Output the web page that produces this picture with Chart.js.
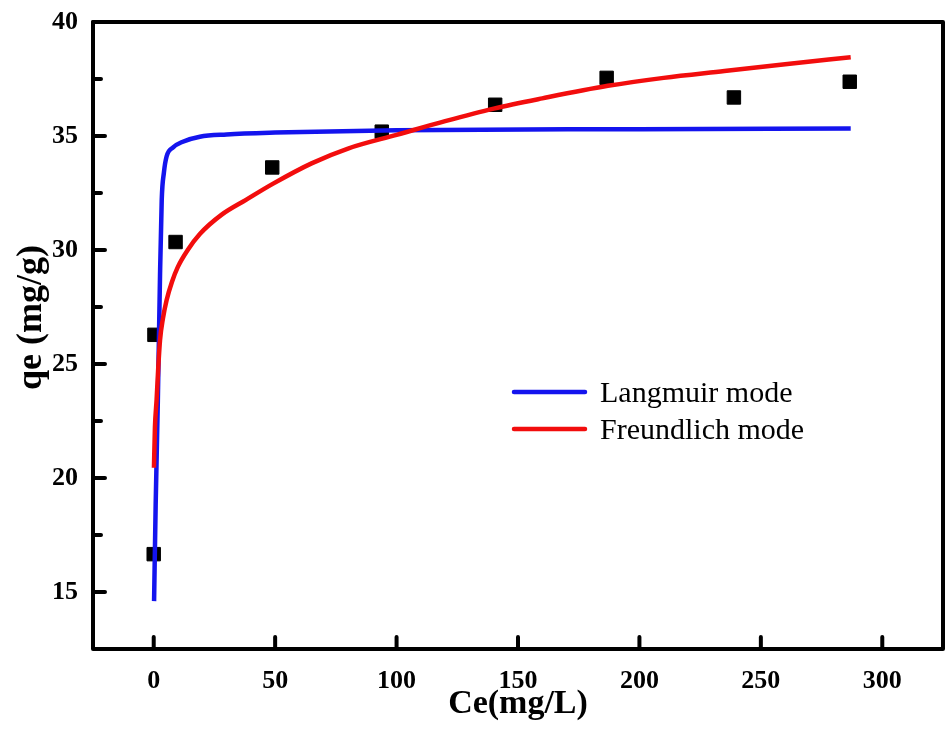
<!DOCTYPE html>
<html>
<head>
<meta charset="utf-8">
<title>qe vs Ce</title>
<script src="https://cdn.jsdelivr.net/npm/chart.js@4.4.1/dist/chart.umd.min.js"></script>
<style>
  html, body { margin: 0; padding: 0; background: #fff; }
  canvas { display: block; }
</style>
</head>
<body>
<canvas id="grafico" width="948" height="729"></canvas>
<script>
// puntos experimentales (cuadrados negros)
const ceExp = [0, 0.3, 9, 48.8, 93.9, 140.6, 186.5, 238.9, 286.6];
const qeExp = [16.66, 26.28, 30.35, 33.62, 35.19, 36.37, 37.55, 36.69, 37.38];

// curva Langmuir
const ceLangmuir = [0.15, 0.8, 1.7, 2.6, 3.3, 4.2, 5.3, 8, 12, 19, 30, 50, 100, 200, 287];
const qeLangmuir = [14.6, 18.8, 23.4, 28.9, 32.2, 33.4, 34.1, 34.5, 34.75, 34.97, 35.07, 35.15, 35.25, 35.3, 35.33];

// curva Freundlich
const ceFreundlich = [0.1, 0.5, 1.2, 1.9, 2.6, 3.8, 5.3, 7.5, 9.9, 14, 19, 28, 38, 49, 65, 80, 100, 120, 140, 160, 187, 210, 235, 260, 287];
const qeFreundlich = [20.45, 22.2, 23.45, 24.9, 26.05, 27.0, 27.8, 28.6, 29.25, 30.0, 30.7, 31.55, 32.2, 32.9, 33.8, 34.45, 35.05, 35.65, 36.2, 36.65, 37.2, 37.55, 37.85, 38.15, 38.45];

const xTicks = [0, 50, 100, 150, 200, 250, 300];
const yTicks = [15, 20, 25, 30, 35, 40];
const yMinorTicks = [17.5, 22.5, 27.5, 32.5, 37.5];

const serif = "'Liberation Serif', 'Times New Roman', serif";
const toXY = (xs, ys) => xs.map((x, i) => ({ x: x, y: ys[i] }));

// marco y marcas de division hacia adentro
const marcoPlugin = {
    id: 'marco',
    afterDatasetsDraw(chart) {
        const { ctx, chartArea: a, scales } = chart;
        ctx.save();
        ctx.strokeStyle = '#000';
        ctx.lineWidth = 4;
        ctx.lineCap = 'round';
        ctx.beginPath();
        xTicks.forEach(v => {
            const px = scales.x.getPixelForValue(v);
            ctx.moveTo(px, a.bottom);
            ctx.lineTo(px, a.bottom - 12);
        });
        yTicks.forEach(v => {
            const py = scales.y.getPixelForValue(v);
            ctx.moveTo(a.left, py);
            ctx.lineTo(a.left + 12, py);
        });
        yMinorTicks.forEach(v => {
            const py = scales.y.getPixelForValue(v);
            ctx.moveTo(a.left, py);
            ctx.lineTo(a.left + 8, py);
        });
        ctx.stroke();
        ctx.lineCap = 'butt';
        ctx.lineJoin = 'round';
        ctx.strokeRect(a.left, a.top, a.right - a.left, a.bottom - a.top);
        ctx.restore();
    }
};

// leyenda dentro del area del grafico
const leyendaPlugin = {
    id: 'leyenda',
    afterDraw(chart) {
        const { ctx } = chart;
        const items = ['Langmuir mode', 'Freundlich mode'];
        ctx.save();
        ctx.font = '30px ' + serif;
        ctx.textBaseline = 'alphabetic';
        ctx.lineCap = 'round';
        items.forEach((nombre, i) => {
            const ds = chart.data.datasets.find(d => d.label === nombre);
            const y = 392 + i * 37;
            ctx.strokeStyle = ds.borderColor;
            ctx.lineWidth = 4.5;
            ctx.beginPath();
            ctx.moveTo(514, y);
            ctx.lineTo(585, y);
            ctx.stroke();
            ctx.fillStyle = '#000';
            ctx.fillText(nombre, 600, y + 10);
        });
        ctx.restore();
    }
};

new Chart(document.getElementById('grafico'), {
    type: 'scatter',
    data: {
        datasets: [
            {
                label: 'Freundlich mode',
                data: toXY(ceFreundlich, qeFreundlich),
                showLine: true,
                borderColor: '#f20d0d',
                borderWidth: 4.5,
                pointRadius: 0,
                cubicInterpolationMode: 'monotone'
            },
            {
                label: 'Langmuir mode',
                data: toXY(ceLangmuir, qeLangmuir),
                showLine: true,
                borderColor: '#1414ee',
                borderWidth: 4.5,
                pointRadius: 0,
                cubicInterpolationMode: 'monotone'
            },
            {
                label: 'exp',
                data: toXY(ceExp, qeExp),
                showLine: false,
                pointStyle: 'rect',
                pointRadius: 9.5,
                backgroundColor: '#000',
                borderColor: '#000',
                borderWidth: 1
            }
        ]
    },
    options: {
        responsive: false,
        animation: false,
        layout: { autoPadding: false, padding: { top: 22, right: 5, left: 0, bottom: 0 } },
        plugins: {
            legend: { display: false },
            tooltip: { enabled: false }
        },
        scales: {
            x: {
                type: 'linear',
                min: -25,
                max: 325,
                grid: { display: false, drawTicks: false },
                border: { display: false },
                afterBuildTicks: s => { s.ticks = xTicks.map(v => ({ value: v })); },
                afterFit: s => {
                    s.height = 80;
                    s.paddingLeft = 0;
                    s.paddingRight = 0;
                },
                ticks: {
                    padding: 17,
                    color: '#000',
                    font: { family: serif, size: 26, weight: 'bold' }
                },
                title: {
                    display: true,
                    text: 'Ce(mg/L)',
                    color: '#000',
                    padding: 4,
                    font: { family: serif, size: 34, weight: 'bold' }
                }
            },
            y: {
                type: 'linear',
                min: 12.5,
                max: 40,
                grid: { display: false, drawTicks: false },
                border: { display: false },
                afterBuildTicks: s => { s.ticks = yTicks.map(v => ({ value: v })); },
                afterFit: s => {
                    s.width = 93;
                    s.paddingTop = 0;
                    s.paddingBottom = 0;
                },
                ticks: {
                    padding: 15,
                    color: '#000',
                    font: { family: serif, size: 26, weight: 'bold' }
                },
                title: {
                    display: true,
                    text: '\u2002\u2002qe (mg/g)',
                    color: '#000',
                    padding: 10,
                    font: { family: serif, size: 36, weight: 'bold' }
                }
            }
        }
    },
    plugins: [marcoPlugin, leyendaPlugin]
});
</script>
</body>
</html>
